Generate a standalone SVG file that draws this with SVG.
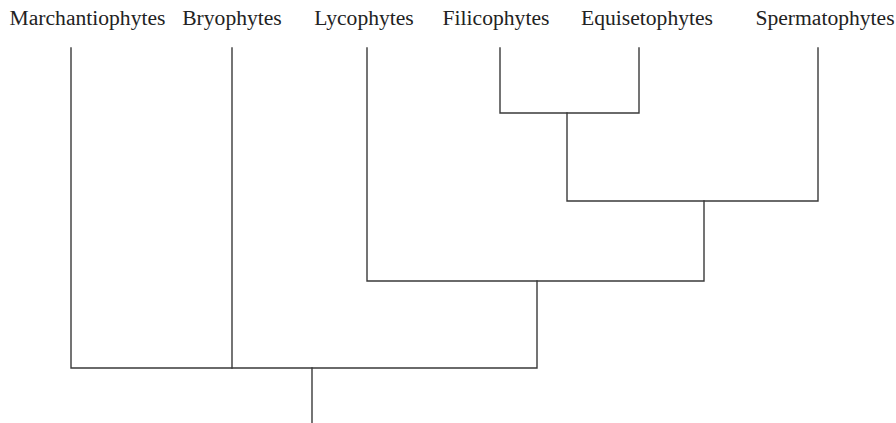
<svg xmlns="http://www.w3.org/2000/svg" width="896" height="423" viewBox="0 0 896 423">
<style>
.lbl{font-family:"Liberation Serif","Times New Roman",serif;font-size:21.6px;fill:#222;text-anchor:middle}
.ln{stroke:#3a3a3a;stroke-width:1.4;fill:none;stroke-linecap:square}
</style>
<rect width="896" height="423" fill="#fff"/>
<g id="marchantiophytes"><text class="lbl" x="87.5" y="25">Marchantiophytes</text></g>
<g id="bryophytes"><text class="lbl" x="232" y="25">Bryophytes</text></g>
<g id="lycophytes"><text class="lbl" x="364" y="25">Lycophytes</text></g>
<g id="filicophytes"><text class="lbl" x="496" y="25">Filicophytes</text></g>
<g id="equisetophytes"><text class="lbl" x="647" y="25">Equisetophytes</text></g>
<g id="spermatophytes"><text class="lbl" x="825" y="25">Spermatophytes</text></g>
<g id="connectors">
<path class="ln" d="M500 48V113H639V48"/>
<path class="ln" d="M567 113V201H818V48"/>
<path class="ln" d="M704 201V281H367V48"/>
<path class="ln" d="M537 281V368H71V48"/>
<path class="ln" d="M232 48V368"/>
<path class="ln" d="M312 368V423"/>
</g>
</svg>
